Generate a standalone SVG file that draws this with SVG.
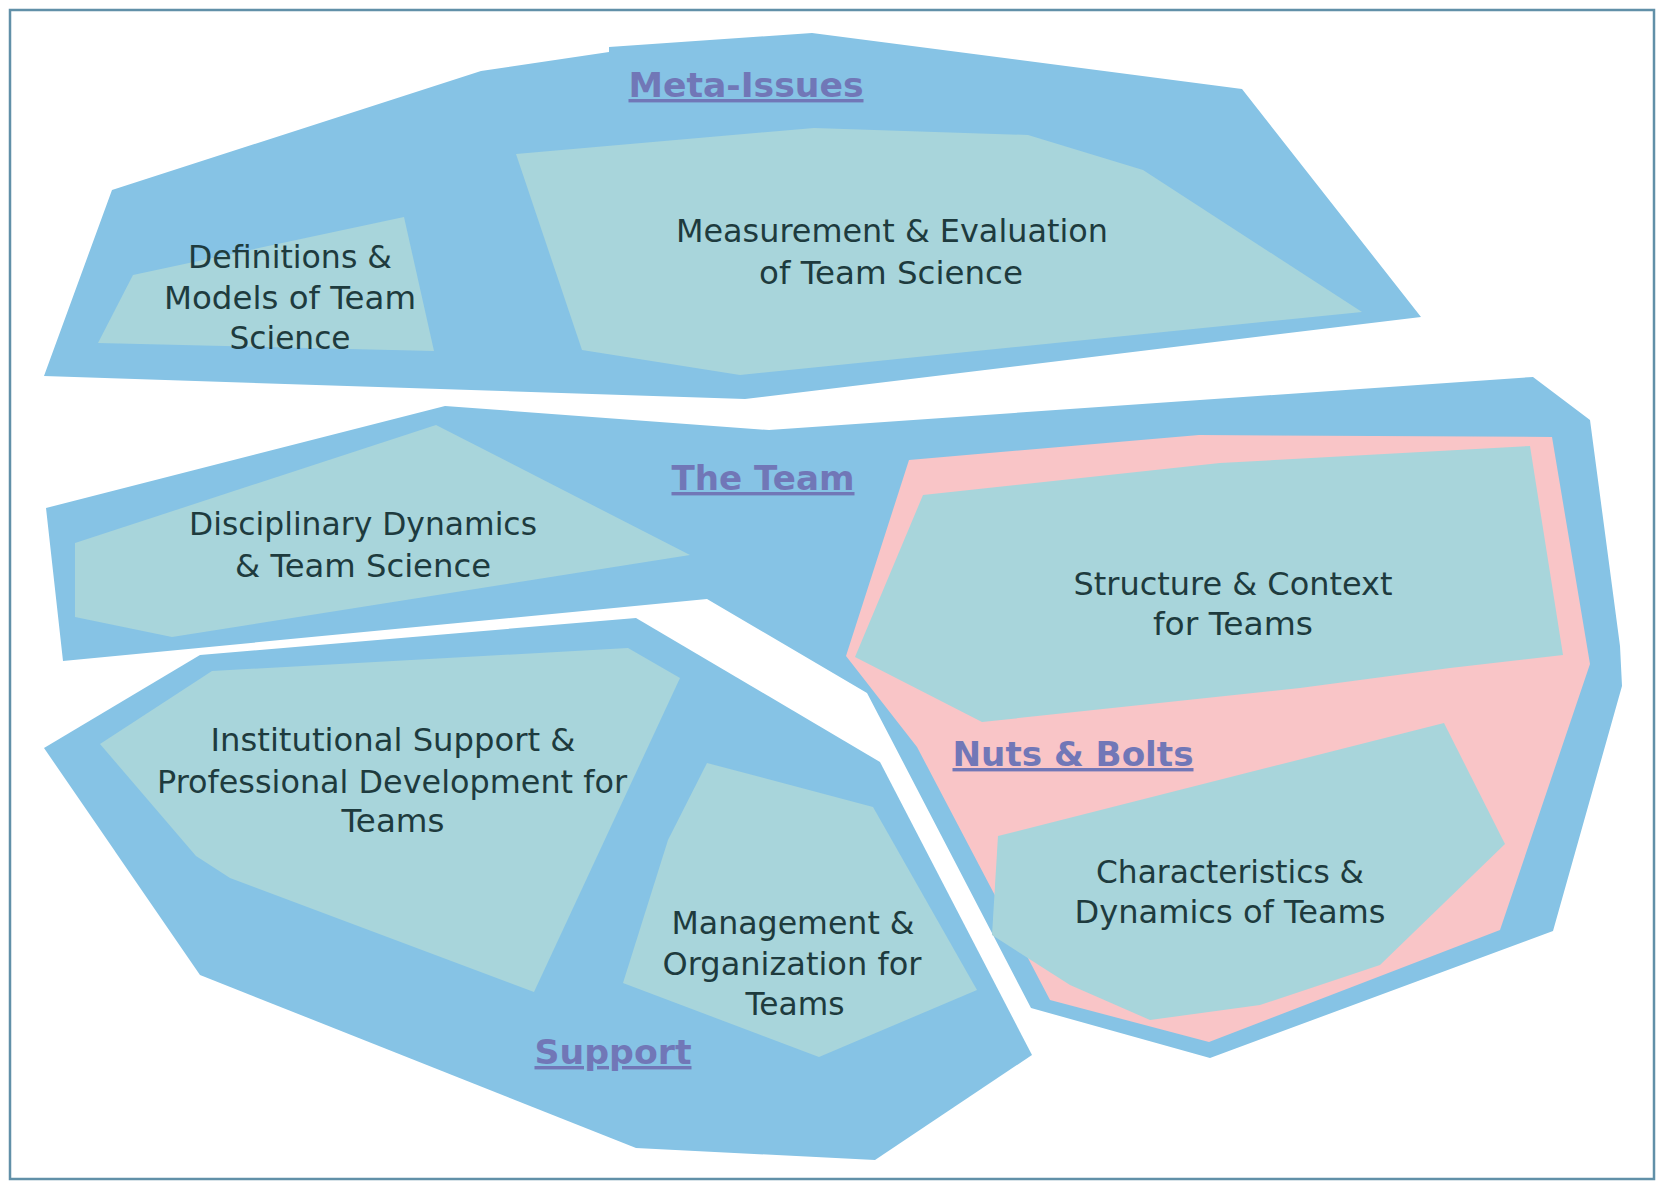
<svg xmlns="http://www.w3.org/2000/svg" width="1657" height="1182" viewBox="0 0 1657 1182">
  <style>
    .outer { fill: #86c3e5; }
    .band { fill: #f9c5c7; }
    .inner { fill: #a8d5db; }
    .txt { font-family: "DejaVu Sans", Verdana, sans-serif; font-size: 31.5px; fill: #1e3b3e; text-anchor: middle; }
    .lbl { font-family: "DejaVu Sans", Verdana, sans-serif; font-size: 34px; font-weight: bold; fill: #7177b7; text-anchor: middle; text-decoration: underline; }
  </style>

  <!-- page background and frame -->
  <rect x="0" y="0" width="1657" height="1182" fill="#ffffff"/>
  <rect x="10" y="10" width="1644" height="1169" fill="none" stroke="#6190a8" stroke-width="2.5"/>

  <!-- cluster: Meta-Issues -->
  <g id="meta-issues">
    <polygon class="outer" points="44,376 112,190 481,71 609,52 609,47 812,33 1242,89 1421,317 745,399"/>
    <text class="lbl" x="746" y="97" textLength="235" lengthAdjust="spacingAndGlyphs">Meta-Issues</text>
  </g>

  <g id="definitions-models">
    <polygon class="inner" points="98,343 133,275 404,217 434,351"/>
    <text class="txt" x="290" y="268" textLength="204" lengthAdjust="spacingAndGlyphs">Definitions &amp;</text>
    <text class="txt" x="290" y="309" textLength="252" lengthAdjust="spacingAndGlyphs">Models of Team</text>
    <text class="txt" x="290" y="349" textLength="121" lengthAdjust="spacingAndGlyphs">Science</text>
  </g>

  <g id="measurement-evaluation">
    <polygon class="inner" points="516,154 814,128 1028,135 1143,170 1362,312 740,375 582,350"/>
    <text class="txt" x="892" y="242" textLength="432" lengthAdjust="spacingAndGlyphs">Measurement &amp; Evaluation</text>
    <text class="txt" x="891" y="284" textLength="264" lengthAdjust="spacingAndGlyphs">of Team Science</text>
  </g>

  <!-- cluster: The Team -->
  <g id="the-team">
    <polygon class="outer" points="46,508 445,406 769,430 1533,377 1590,420 1620,646 1622,686 1553,931 1210,1058 1031,1008 890,737 867,693 707,599 63,661"/>
    <text class="lbl" x="763" y="490" textLength="183" lengthAdjust="spacingAndGlyphs">The Team</text>
  </g>

  <g id="disciplinary-dynamics">
    <polygon class="inner" points="75,543 436,425 690,555 172,637 75,617"/>
    <text class="txt" x="363" y="535" textLength="348" lengthAdjust="spacingAndGlyphs">Disciplinary Dynamics</text>
    <text class="txt" x="363" y="577" textLength="256" lengthAdjust="spacingAndGlyphs">&amp; Team Science</text>
  </g>

  <!-- sub-cluster: Nuts & Bolts -->
  <g id="nuts-bolts">
    <polygon class="band" points="909,460 1199,435 1552,437 1590,664 1500,930 1209,1042 1050,1000 917,747 846,656"/>
  </g>

  <g id="structure-context">
    <polygon class="inner" points="923,495 1220,463 1530,446 1563,655 1450,668 1300,688 982,722 855,657"/>
    <text class="txt" x="1233" y="595" textLength="319" lengthAdjust="spacingAndGlyphs">Structure &amp; Context</text>
    <text class="txt" x="1233" y="635" textLength="160" lengthAdjust="spacingAndGlyphs">for Teams</text>
  </g>

  <g id="characteristics-dynamics">
    <polygon class="inner" points="998,836 1444,723 1505,844 1380,965 1260,1005 1150,1020 1070,985 992,935"/>
    <text class="txt" x="1230" y="883" textLength="268" lengthAdjust="spacingAndGlyphs">Characteristics &amp;</text>
    <text class="txt" x="1230" y="923" textLength="311" lengthAdjust="spacingAndGlyphs">Dynamics of Teams</text>
  </g>

  <g id="nuts-bolts-label">
    <text class="lbl" x="1073" y="766" textLength="241" lengthAdjust="spacingAndGlyphs">Nuts &amp; Bolts</text>
  </g>

  <!-- cluster: Support -->
  <g id="support">
    <polygon class="outer" points="44,748 200,655 636,618 880,762 1032,1055 875,1160 636,1148 200,975"/>
    <text class="lbl" x="613" y="1064" textLength="157" lengthAdjust="spacingAndGlyphs">Support</text>
  </g>

  <g id="institutional-support">
    <polygon class="inner" points="100,744 212,671 628,648 680,678 534,992 230,878 196,856"/>
    <text class="txt" x="393" y="751" textLength="365" lengthAdjust="spacingAndGlyphs">Institutional Support &amp;</text>
    <text class="txt" x="392" y="793" textLength="470" lengthAdjust="spacingAndGlyphs">Professional Development for</text>
    <text class="txt" x="393" y="832" textLength="103" lengthAdjust="spacingAndGlyphs">Teams</text>
  </g>

  <g id="management-organization">
    <polygon class="inner" points="707,763 873,807 977,990 819,1057 623,983 668,840"/>
    <text class="txt" x="793" y="934" textLength="243" lengthAdjust="spacingAndGlyphs">Management &amp;</text>
    <text class="txt" x="792" y="975" textLength="259" lengthAdjust="spacingAndGlyphs">Organization for</text>
    <text class="txt" x="795" y="1015" textLength="99" lengthAdjust="spacingAndGlyphs">Teams</text>
  </g>
</svg>
